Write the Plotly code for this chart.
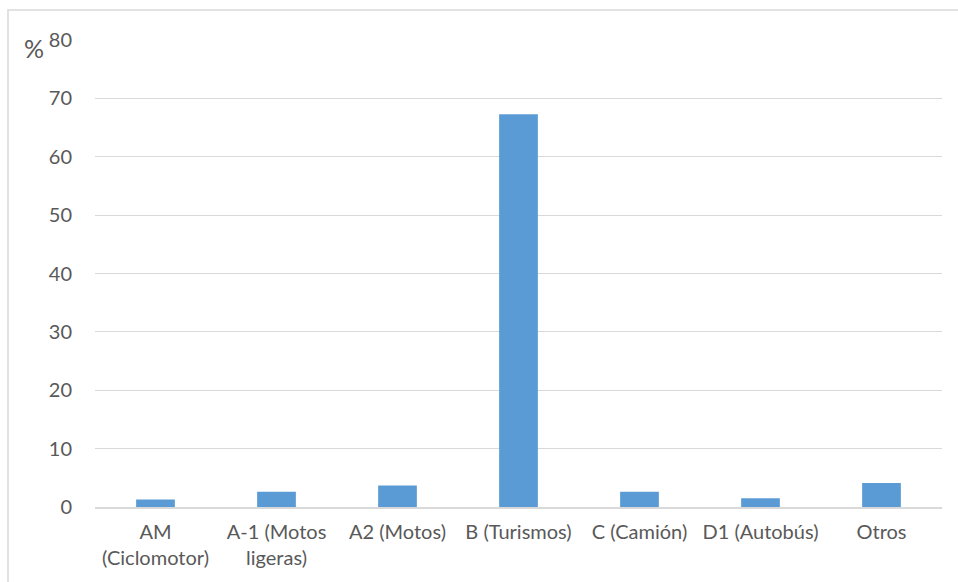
import plotly.graph_objects as go

# Permisos de conducción: porcentaje por tipo
categorias = ["AM<br>(Ciclomotor)", "A-1 (Motos<br>ligeras)", "A2 (Motos)", "B (Turismos)",
              "C (Camión)", "D1 (Autobús)", "Otros"]
porcentajes = [1.3, 2.6, 3.7, 67.3, 2.6, 1.5, 4.1]
ticks_y = [0, 10, 20, 30, 40, 50, 60, 70, 80]

W, H = 958, 582
L, R, T, B = 95, 16, 40, 75
pw, ph = W - L - R, H - T - B

def px_x(p):
    return (p - L) / pw

def px_y(p):
    return (H - B - p) / ph

fig = go.Figure(go.Bar(
    x=categorias, y=porcentajes,
    marker=dict(color="#5b9bd5", line=dict(width=0)),
    width=0.32,
))

font = dict(family="Lato, Carlito, sans-serif", size=20, color="#595959")

fig.update_layout(
    width=W, height=H,
    margin=dict(l=L, r=R, t=T, b=B, pad=0),
    paper_bgcolor="white", plot_bgcolor="white",
    font=font,
    showlegend=False,
    xaxis=dict(showgrid=False, showline=True, linecolor="#d9d9d9", linewidth=1.5,
               ticks="", tickfont=font, ticklabelstandoff=6, fixedrange=True),
    yaxis=dict(range=[0, 80], tickvals=ticks_y, showgrid=True, gridcolor="#d9d9d9",
               gridwidth=1, zeroline=False, showline=False, ticks="",
               ticklabelstandoff=22, tickfont=font, fixedrange=True),
    annotations=[dict(text="%", xref="paper", yref="paper", x=px_x(34), y=px_y(48),
                      xanchor="center", yanchor="middle", showarrow=False,
                      font=dict(family="Lato, Carlito, sans-serif", size=25, color="#595959"))],
    shapes=[dict(type="rect", xref="paper", yref="paper",
                 x0=px_x(8), y0=px_y(620), x1=px_x(990), y1=px_y(10),
                 line=dict(color="#d9d9d9", width=1.5), fillcolor="rgba(0,0,0,0)",
                 layer="below")],
)

fig.write_html("out.html")
